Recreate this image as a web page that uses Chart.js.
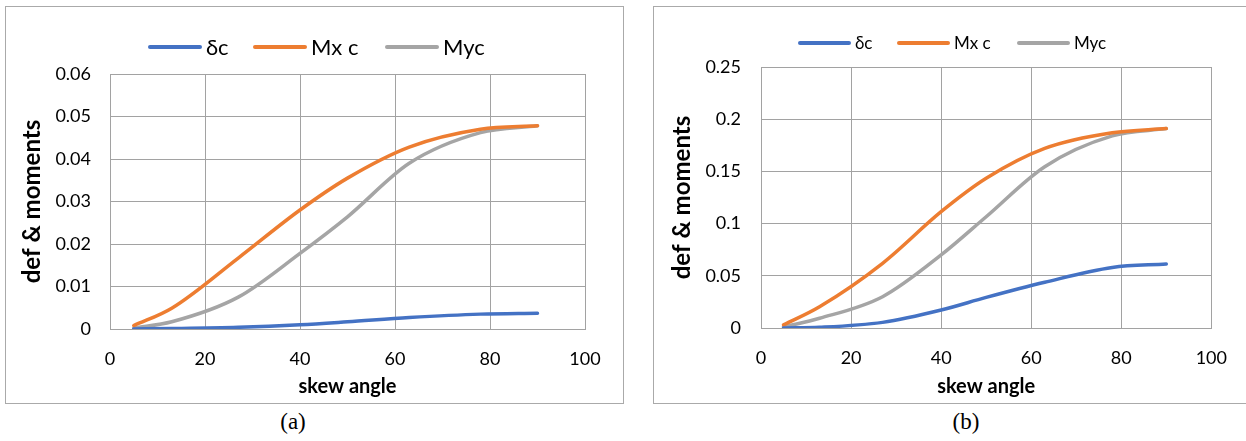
<!DOCTYPE html>
<html>
<head>
<meta charset="utf-8">
<script src="https://cdn.jsdelivr.net/npm/chart.js@4"></script>
<style>
  body { margin: 0; width: 1246px; height: 441px; background: #fff; position: relative; overflow: hidden; font-family: Lato, sans-serif; }
  .box { position: absolute; border: 1px solid #aaaaaa; box-sizing: border-box; }
  canvas { position: absolute; }
  .lg-item { position: absolute; display: flex; align-items: center; color: #000; white-space: nowrap; }
  .lg-line { height: 4px; border-radius: 2px; margin-right: 4px; }
  .caption { position: absolute; font-family: "Liberation Serif", serif; font-size: 23px; line-height: 26px; transform: translateX(-50%); color: #000; }
</style>
</head>
<body>
<div class="box" style="left:5px; top:6px; width:619px; height:398px;"></div>
<div class="box" style="left:653px; top:6px; width:620px; height:398px;"></div>
<canvas id="chartA" width="618" height="397" style="left:5px; top:6px;"></canvas>
<canvas id="chartB" width="593" height="397" style="left:653px; top:6px;"></canvas>
<div id="legendA"></div>
<div id="legendB"></div>
<div class="caption" style="left:293px; top:409px;">(a)</div>
<div class="caption" style="left:966px; top:409px;">(b)</div>

<script>
// shared
const angles = [5, 13, 27, 40, 50, 63, 78, 90];
const seriesNames = ['δc', 'Mx c', 'Myc'];
const seriesColors = ['#4472C4', '#ED7D31', '#A5A5A5'];
const xTicks = [0, 20, 40, 60, 80, 100];

// chart (a)
const defA = [0, 0.0001, 0.0004, 0.001, 0.0017, 0.0027, 0.0035, 0.0037];
const mxA = [0.0008, 0.0049, 0.0167, 0.028, 0.0355, 0.0428, 0.047, 0.0478];
const myA = [0.0002, 0.0017, 0.0075, 0.0178, 0.0264, 0.039, 0.0462, 0.0478];
const yTicksA = [0, 0.01, 0.02, 0.03, 0.04, 0.05, 0.06];

// chart (b)
const defB = [0, 0.0007, 0.0054, 0.0172, 0.0293, 0.0438, 0.058, 0.0613];
const mxB = [0.003, 0.0204, 0.062, 0.1114, 0.1434, 0.172, 0.187, 0.191];
const myB = [0.001, 0.0093, 0.03, 0.07, 0.1066, 0.1545, 0.184, 0.191];
const yTicksB = [0, 0.05, 0.1, 0.15, 0.2, 0.25];

const gridColor = '#a2a2a2';

function buildLegend(el, lefts, top, fontSize, lineWidth) {
  seriesNames.forEach(function (name, i) {
    const item = document.createElement('div');
    item.className = 'lg-item';
    item.style.left = lefts[i] + 'px';
    item.style.top = top + 'px';
    item.style.fontSize = fontSize + 'px';
    item.style.lineHeight = Math.round(fontSize * 1.2) + 'px';
    item.innerHTML = '<span class="lg-line" style="width:' + lineWidth + 'px; background:' + seriesColors[i] + '"></span><span>' + name + '</span>';
    el.appendChild(item);
  });
}

function makeChart(id, values, yTicks, lay) {
  return new Chart(document.getElementById(id), {
    type: 'line',
    data: {
      datasets: seriesNames.map(function (name, i) {
        return {
          label: name,
          data: angles.map(function (a, j) { return { x: a, y: values[i][j] }; }),
          borderColor: seriesColors[i],
          backgroundColor: seriesColors[i],
          borderWidth: 3.5,
          borderCapStyle: 'round',
          pointRadius: 0,
          cubicInterpolationMode: 'monotone',
          fill: false
        };
      })
    },
    options: {
      responsive: false,
      animation: false,
      events: [],
      layout: { padding: { left: lay.padL, right: lay.padR, top: lay.padT, bottom: 0 } },
      plugins: { legend: { display: false }, tooltip: { enabled: false } },
      scales: {
        x: {
          type: 'linear',
          min: xTicks[0],
          max: xTicks[xTicks.length - 1],
          afterBuildTicks: function (s) { s.ticks = xTicks.map(function (v) { return { value: v }; }); },
          afterFit: function (s) { s.height = lay.xH; },
          grid: { color: gridColor, drawTicks: false },
          border: { color: gridColor },
          ticks: { color: '#000', font: { family: 'Lato', size: 18 }, padding: 19, maxRotation: 0, callback: function (v) { return String(v); } },
          title: { display: true, text: 'skew angle', color: '#000', font: { family: 'Lato', size: 20, weight: 'bold' }, padding: { top: 4, bottom: 4 } }
        },
        y: {
          min: yTicks[0],
          max: yTicks[yTicks.length - 1],
          afterBuildTicks: function (s) { s.ticks = yTicks.map(function (v) { return { value: v }; }); },
          afterFit: function (s) { s.width = lay.yW; },
          grid: { color: gridColor, drawTicks: false },
          border: { color: gridColor },
          ticks: { color: '#000', font: { family: 'Lato', size: 18 }, padding: lay.tickPad, callback: function (v) { return String(+v.toFixed(4)); } },
          title: { display: true, text: 'def & moments', color: '#000', font: { family: 'Lato', size: 24, weight: 'bold' }, padding: { top: 4, bottom: 4 } }
        }
      }
    }
  });
}

makeChart('chartA', [defA, mxA, myA], yTicksA, { padL: 9, yW: 96, padR: 38, padT: 68, xH: 74, tickPad: 19 });
makeChart('chartB', [defB, mxB, myB], yTicksB, { padL: 11, yW: 97, padR: 32, padT: 61, xH: 75, tickPad: 20 });

buildLegend(document.getElementById('legendA'), [148, 253, 385], 34, 22, 54);
buildLegend(document.getElementById('legendB'), [798, 897, 1017], 33, 17, 53);
</script>
</body>
</html>
